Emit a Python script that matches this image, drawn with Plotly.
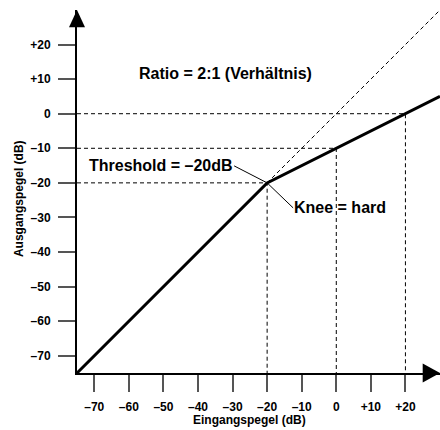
import plotly.graph_objects as go

# ---- data ----
tick_vals = [-70, -60, -50, -40, -30, -20, -10, 0, 10, 20]
tick_text = ["–70", "–60", "–50", "–40", "–30", "–20", "–10", "0", "+10", "+20"]

curve_in = [-75, -20, 30]      # Eingangspegel (dB)
curve_out = [-75, -20, 5]      # Ausgangspegel (dB), ratio 2:1 above threshold

unity_in = [-20, 30]
unity_out = [-20, 30]

guide_in = [-20, 0, 20]
guide_out = [-20, -10, 0]

axis_min = -75
axis_max = 30
arrow_base = 25

FONT = "Liberation Sans, Arial, Helvetica, sans-serif"

PLOT_W = 363
PLOT_H = 363

fig = go.Figure()

# dashed guide lines (horizontal from y-axis to the curve, vertical down to x-axis)
gx, gy = [], []
for xi, yo in zip(guide_in, guide_out):
    gx += [axis_min, xi, xi, None]
    gy += [yo, yo, axis_min, None]
fig.add_trace(go.Scatter(x=gx, y=gy, mode="lines",
                         line=dict(color="black", width=1, dash="4px,3px"),
                         hoverinfo="skip", showlegend=False))

# unity (1:1) dashed line
fig.add_trace(go.Scatter(x=unity_in, y=unity_out, mode="lines",
                         line=dict(color="black", width=1, dash="4px,3px"),
                         hoverinfo="skip", showlegend=False))

# compressor curve
fig.add_trace(go.Scatter(x=curve_in, y=curve_out, mode="lines",
                         line=dict(color="black", width=3),
                         showlegend=False))

axis_common = dict(
    range=[axis_min, axis_max],
    tickvals=tick_vals, ticktext=tick_text,
    ticks="outside", ticklen=17, tickwidth=1.5, tickcolor="#555555",
    tickfont=dict(family=FONT, size=12, color="black", weight="bold"),
    showgrid=False, zeroline=False,
    showline=True, linecolor="black", linewidth=2,
    ticklabelstandoff=5,
)

fig.update_layout(
    width=440, height=430,
    margin=dict(l=77, r=0, t=10, b=57),
    paper_bgcolor="white", plot_bgcolor="white",
    xaxis=dict(**axis_common),
    yaxis=dict(**axis_common),
    showlegend=False,
)

# axis arrows (paper coordinates so they are not clipped)
span = axis_max - axis_min
base_p = (arrow_base - axis_min) / span
hx = 9.5 / PLOT_H
hy = 8.0 / PLOT_W
fig.add_shape(type="path", xref="paper", yref="paper", layer="above",
              path=f"M {base_p},{-hx} L 1,0 L {base_p},{hx} Z",
              fillcolor="black", line=dict(color="black", width=0))
fig.add_shape(type="path", xref="paper", yref="paper", layer="above",
              path=f"M {-hy},{base_p} L 0,1 L {hy},{base_p} Z",
              fillcolor="black", line=dict(color="black", width=0))

ann_font = dict(family=FONT, size=16, color="black", weight="bold")

fig.add_annotation(x=-32, y=11.6, xref="x", yref="y", text="Ratio = 2:1 (Verhältnis)",
                   showarrow=False, font=ann_font, xanchor="center", yanchor="middle")

fig.add_annotation(x=guide_in[0], y=guide_out[0], xref="x", yref="y",
                   text="Threshold = –20dB", font=ann_font,
                   showarrow=True, arrowhead=0, arrowwidth=1, arrowcolor="black",
                   ax=-33, ay=-17, xanchor="right", yanchor="middle", borderpad=0)

fig.add_annotation(x=guide_in[0], y=guide_out[0], xref="x", yref="y",
                   text="Knee = hard", font=ann_font,
                   showarrow=True, arrowhead=0, arrowwidth=1, arrowcolor="black",
                   ax=26, ay=25, xanchor="left", yanchor="middle", borderpad=0)

# axis titles
title_font = dict(family=FONT, size=12, color="black", weight="bold")
fig.add_annotation(x=-25, y=0, xref="x", yref="paper", yshift=-47,
                   text="Eingangspegel (dB)", showarrow=False, font=title_font,
                   xanchor="center", yanchor="middle")
fig.add_annotation(x=0, y=-24.7, xref="paper", yref="y", xshift=-58,
                   text="Ausgangspegel (dB)", showarrow=False, font=title_font,
                   textangle=-90, xanchor="center", yanchor="middle")

fig.write_html(
    "out.html",
    config={"displayModeBar": False},
    post_script="document.body.style.margin='0';document.body.style.overflow='hidden';"
                "document.documentElement.style.overflow='hidden';",
)
